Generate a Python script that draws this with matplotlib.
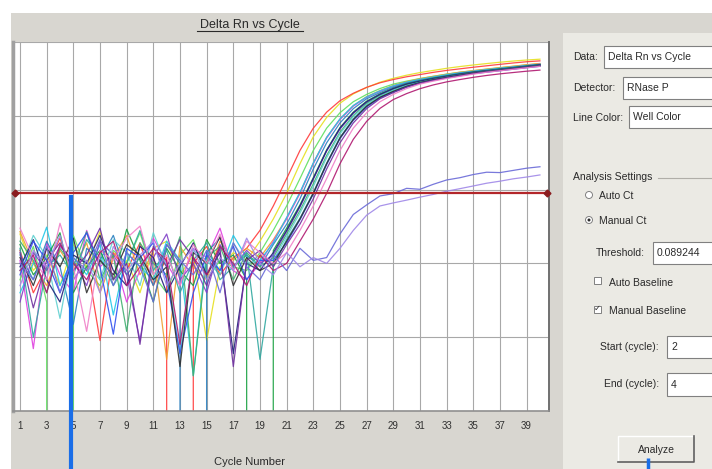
#!/usr/bin/env python3
"""Delta Rn vs Cycle amplification plot, drawn like the SDS analysis window."""
import matplotlib

matplotlib.use("Agg")
import matplotlib.pyplot as plt
from matplotlib.patches import Rectangle, Circle

plt.rcParams["font.family"] = ["Liberation Sans", "DejaVu Sans"]

cycles = list(range(1, 41))
cycle_ticks = list(range(1, 40, 2))
threshold = 0.089244
baseline_cycle_marker = 4.8

# Delta Rn per well (cycles 1..40)
well_red = [0.015, 0.004, 0.009, 0.022, 0.006, 0.011, 0.0009, 0.014, 0.008, 0.019,
            0.005, 0.012, -0.001, 0.010, 0.017, 0.007, 0.012, 0.016, 0.028, 0.060,
            0.141, 0.339, 0.68, 1.12, 1.60, 2.02, 2.43, 2.80, 3.10, 3.38,
            3.62, 3.88, 4.12, 4.33, 4.55, 4.76, 4.98, 5.20, 5.40, 5.55]
well_yellow = [0.025, 0.008, 0.013, 0.005, 0.018, 0.009, 0.027, 0.006, 0.011, 0.004,
               0.016, 0.020, 0.007, 0.013, 0.0009, 0.009, 0.014, 0.011, 0.020, 0.040,
               0.089, 0.224, 0.52, 0.95, 1.48, 1.98, 2.42, 2.85, 3.22, 3.55,
               3.85, 4.12, 4.40, 4.65, 4.88, 5.10, 5.32, 5.52, 5.70, 5.85]
well_lime = [0.006, 0.017, 0.003, -0.001, 0.024, 0.008, 0.005, 0.015, 0.010, 0.026,
             0.007, 0.004, 0.013, 0.021, 0.006, 0.011, 0.009, 0.008, 0.014, 0.028,
             0.060, 0.141, 0.339, 0.68, 1.10, 1.55, 1.95, 2.34, 2.69, 2.95,
             3.20, 3.43, 3.67, 3.89, 4.07, 4.27, 4.47, 4.68, 4.90, 5.07]
well_magenta = [0.011, 0.0007, 0.019, 0.007, 0.004, 0.028, 0.009, 0.013, 0.003, 0.008,
                0.022, 0.010, 0.005, 0.016, 0.012, 0.030, 0.008, 0.006, 0.010, 0.020,
                0.040, 0.089, 0.224, 0.50, 0.89, 1.35, 1.78, 2.14, 2.51, 2.82,
                3.09, 3.31, 3.55, 3.80, 3.98, 4.17, 4.37, 4.57, 4.79, 5.01]
well_cyan = [0.004, 0.010, 0.031, 0.005, 0.012, 0.007, 0.018, 0.002, 0.014, 0.009,
             0.006, 0.020, 0.011, 0.0003, 0.015, 0.008, 0.024, 0.012, 0.011, 0.019,
             0.042, 0.092, 0.230, 0.51, 0.91, 1.38, 1.80, 2.18, 2.55, 2.86,
             3.12, 3.36, 3.60, 3.82, 4.02, 4.22, 4.42, 4.60, 4.80, 4.98]
well_navy = [0.009, 0.021, 0.006, 0.003, 0.013, 0.010, 0.024, 0.008, 0.005, 0.017,
             0.012, 0.004, 0.009, 0.019, 0.007, 0.014, 0.0006, 0.010, 0.008, 0.014,
             0.028, 0.060, 0.141, 0.339, 0.68, 1.10, 1.55, 1.95, 2.34, 2.69,
             2.95, 3.20, 3.43, 3.67, 3.89, 4.07, 4.27, 4.47, 4.68, 4.90]
well_green = [0.018, 0.007, 0.012, 0.026, 0.004, 0.009, 0.015, 0.006, 0.029, 0.011,
              0.003, 0.016, 0.008, 0.005, 0.021, 0.010, 0.013, 0.006, -0.001, 0.015,
              0.030, 0.062, 0.145, 0.345, 0.69, 1.12, 1.58, 1.98, 2.36, 2.72,
              2.98, 3.24, 3.47, 3.70, 3.92, 4.10, 4.30, 4.50, 4.70, 4.92]
well_purple = [0.003, 0.014, 0.008, 0.017, 0.011, 0.005, 0.020, 0.013, 0.007, 0.0009,
               0.012, 0.025, 0.006, 0.010, 0.004, 0.018, 0.009, 0.015, 0.010, 0.013,
               0.027, 0.058, 0.138, 0.332, 0.66, 1.08, 1.52, 1.92, 2.30, 2.64,
               2.90, 3.15, 3.38, 3.62, 3.84, 4.02, 4.22, 4.42, 4.62, 4.84]
well_grey = [0.012, 0.005, 0.016, 0.009, 0.022, 0.004, 0.011, 0.007, 0.018, 0.013,
             0.006, 0.009, 0.0004, 0.014, 0.010, 0.023, 0.005, 0.012, 0.008, 0.010,
             0.020, 0.040, 0.089, 0.224, 0.50, 0.89, 1.35, 1.78, 2.14, 2.51,
             2.82, 3.09, 3.31, 3.55, 3.80, 3.98, 4.17, 4.37, 4.57, 4.79]
well_orange = [0.027, 0.010, 0.005, 0.015, 0.008, 0.019, 0.004, 0.012, 0.024, 0.007,
               0.014, 0.0005, 0.017, 0.009, 0.006, 0.020, 0.011, 0.016, 0.012, 0.021,
               0.041, 0.090, 0.228, 0.51, 0.90, 1.37, 1.82, 2.20, 2.58, 2.90,
               3.18, 3.42, 3.66, 3.90, 4.10, 4.30, 4.50, 4.70, 4.92, 5.12]
well_blue = [0.007, 0.020, 0.011, 0.004, 0.014, 0.026, 0.009, 0.0011, 0.016, 0.012,
             0.019, 0.006, 0.0006, 0.004, 0.013, 0.008, 0.017, 0.006, 0.011, 0.011,
             0.019, 0.039, 0.087, 0.218, 0.49, 0.87, 1.32, 1.74, 2.10, 2.46,
             2.76, 3.02, 3.25, 3.48, 3.72, 3.90, 4.08, 4.28, 4.48, 4.68]
well_teal = [0.016, 0.001, 0.009, 0.013, 0.007, 0.021, 0.012, 0.005, 0.010, 0.028,
             0.008, 0.015, 0.004, 0.011, 0.019, 0.006, 0.009, 0.014, 0.0005, 0.009,
             0.021, 0.041, 0.091, 0.228, 0.51, 0.90, 1.36, 1.79, 2.16, 2.53,
             2.84, 3.11, 3.34, 3.58, 3.82, 4.00, 4.20, 4.40, 4.60, 4.80]
well_pink = [0.030, 0.012, 0.006, 0.035, 0.009, 0.0012, 0.015, 0.011, 0.022, 0.032,
             0.007, 0.013, 0.005, 0.018, 0.010, 0.025, 0.008, 0.020, 0.014, 0.010,
             0.014, 0.028, 0.060, 0.141, 0.339, 0.68, 1.10, 1.55, 1.95, 2.34,
             2.69, 2.95, 3.20, 3.43, 3.67, 3.89, 4.07, 4.27, 4.47, 4.68]
well_wine = [0.008, 0.013, 0.004, 0.018, 0.010, 0.006, 0.014, 0.020, 0.005, 0.009,
             0.016, 0.011, 0.0008, 0.012, 0.007, 0.017, 0.010, 0.005, 0.013, 0.008,
             0.010, 0.020, 0.040, 0.089, 0.224, 0.48, 0.84, 1.26, 1.66, 2.00,
             2.33, 2.62, 2.88, 3.10, 3.32, 3.52, 3.70, 3.86, 4.02, 4.16]
well_steel = [0.013, 0.006, 0.020, 0.009, 0.0015, 0.016, 0.011, 0.024, 0.007, 0.012,
              0.005, 0.018, 0.010, -0.001, 0.014, 0.022, 0.009, 0.013, 0.009, 0.018,
              0.034, 0.075, 0.19, 0.43, 0.80, 1.25, 1.70, 2.06, 2.44, 2.77,
              3.03, 3.27, 3.50, 3.75, 3.95, 4.13, 4.33, 4.53, 4.75, 4.97]
well_jade = [0.020, 0.011, 0.004, 0.016, 0.009, 0.027, 0.006, 0.013, 0.0012, 0.019,
             0.010, 0.007, 0.023, 0.0003, 0.012, 0.017, 0.006, 0.014, 0.009, 0.012,
             0.025, 0.052, 0.12, 0.29, 0.60, 1.01, 1.47, 1.88, 2.26, 2.62,
             2.90, 3.15, 3.38, 3.62, 3.85, 4.03, 4.23, 4.43, 4.63, 4.85]
well_aqua = [0.008, 0.024, 0.012, 0.0018, 0.017, 0.010, 0.006, 0.021, 0.014, 0.005,
             0.026, 0.009, 0.0006, 0.015, 0.011, 0.007, 0.019, 0.010, 0.011, 0.011,
             0.023, 0.048, 0.11, 0.27, 0.57, 0.97, 1.42, 1.84, 2.22, 2.58,
             2.87, 3.12, 3.35, 3.58, 3.80, 3.99, 4.19, 4.39, 4.58, 4.78]
well_violet = [0.014, 0.0025, 0.011, 0.019, 0.008, 0.013, 0.030, 0.006, 0.010, 0.0008,
               0.017, 0.009, 0.021, 0.012, 0.005, 0.016, 0.0004, 0.011, 0.015, 0.009,
               0.018, 0.034, 0.075, 0.19, 0.43, 0.80, 1.25, 1.70, 2.06, 2.44,
               2.77, 3.03, 3.27, 3.50, 3.75, 3.95, 4.13, 4.33, 4.53, 4.75]
well_lilac_hi = [0.010, 0.006, 0.017, 0.004, 0.012, 0.008, 0.021, 0.005, 0.014, 0.009,
                 0.003, 0.018, 0.011, 0.007, 0.015, 0.004, 0.019, 0.009, 0.006, 0.013,
                 0.008, 0.016, 0.011, 0.012, 0.025, 0.046, 0.062, 0.082, 0.088, 0.104,
                 0.101, 0.118, 0.135, 0.145, 0.160, 0.172, 0.170, 0.182, 0.195, 0.204]
well_lilac_lo = [0.005, 0.015, 0.009, 0.024, 0.006, 0.011, 0.004, 0.017, 0.008, 0.013,
                 0.020, 0.005, 0.010, 0.016, 0.006, 0.012, 0.008, 0.022, 0.010, 0.007,
                 0.014, 0.009, 0.012, 0.010, 0.016, 0.028, 0.045, 0.060, 0.066, 0.072,
                 0.079, 0.086, 0.095, 0.103, 0.112, 0.122, 0.130, 0.140, 0.148, 0.158]

wells = [
    (well_yellow, "#e6e020"), (well_red, "#ff3a3a"), (well_lime, "#5fe05f"),
    (well_orange, "#f0a030"), (well_magenta, "#e040e0"), (well_cyan, "#20c8e8"),
    (well_steel, "#2a80c0"), (well_green, "#18a040"), (well_purple, "#8040c8"),
    (well_jade, "#40b070"), (well_aqua, "#60d0d0"), (well_navy, "#20207a"),
    (well_teal, "#30a8a0"), (well_blue, "#3050f0"), (well_grey, "#303030"),
    (well_violet, "#7030a0"), (well_pink, "#f080c8"), (well_wine, "#b01870"),
    (well_lilac_hi, "#6a6ad8"), (well_lilac_lo, "#a088e8"),
]

W, H = 712, 469
GRAY = "#d8d6d0"
PANEL = "#ebeae4"
TXT = "#2a2a2a"

fig = plt.figure(figsize=(W / 100, H / 100), dpi=100)
fig.patch.set_facecolor("white")

# pixel-space layer for the window chrome
bg = fig.add_axes([0, 0, 1, 1])
bg.set_xlim(0, W)
bg.set_ylim(H, 0)
bg.axis("off")
bg.add_patch(Rectangle((11, 13), W - 11, H - 13, facecolor=GRAY, edgecolor="none"))
bg.add_patch(Rectangle((563, 33), W - 563, H - 33, facecolor=PANEL, edgecolor="none"))

bg.text(250, 25, "Delta Rn vs Cycle", fontsize=9, color=TXT, ha="center", va="center")
bg.plot([197, 303], [31, 31], color=TXT, lw=0.8)
bg.text(250, 462, "Cycle Number", fontsize=8, color=TXT, ha="center", va="center")


def label(x, y, s, **kw):
    bg.text(x, y, s, fontsize=7.5, color=TXT, va="center", **kw)


def field(x, y0, y1, s):
    bg.add_patch(Rectangle((x, y0), W - x + 2, y1 - y0, facecolor="white",
                           edgecolor="#808080", lw=0.8))
    bg.text(x + 4, (y0 + y1) / 2, s, fontsize=7.5, color=TXT, va="center")


label(573, 57, "Data:")
field(604, 46, 68, "Delta Rn vs Cycle")
label(573, 88, "Detector:")
field(623, 77, 99, "RNase P")
label(573, 118, "Line Color:")
field(629, 106, 128, "Well Color")

label(573, 177, "Analysis Settings")
bg.plot([658, W], [178, 178], color="#b0aea8", lw=0.8)
bg.add_patch(Circle((589, 195), 3.5, facecolor="white", edgecolor="#808080", lw=0.7))
label(599, 196, "Auto Ct")
bg.add_patch(Circle((589, 220), 3.5, facecolor="white", edgecolor="#808080", lw=0.7))
bg.add_patch(Circle((589, 220), 1.5, facecolor=TXT, edgecolor="none"))
label(599, 221, "Manual Ct")

label(596, 253, "Threshold:")
field(653, 242, 264, f"{threshold:.6f}")
bg.add_patch(Rectangle((594, 277), 7, 7, facecolor="white", edgecolor="#808080", lw=0.7))
label(609, 283, "Auto Baseline")
bg.add_patch(Rectangle((594, 306), 7, 7, facecolor="white", edgecolor="#808080", lw=0.7))
bg.text(597.5, 309.5, "\u2713", fontsize=6, color=TXT, ha="center", va="center")
label(609, 311, "Manual Baseline")

label(600, 347, "Start (cycle):")
field(667, 336, 358, "2")
label(604, 384, "End (cycle):")
field(667, 373, 396, "4")

bg.add_patch(Rectangle((618, 436), 76, 26, facecolor=PANEL, edgecolor="none"))
bg.plot([618, 618, 694], [462, 436, 436], color="white", lw=1.0)
bg.plot([618, 694, 694], [462, 462, 436], color="#606060", lw=1.2)
bg.text(656, 450, "Analyze", fontsize=7.5, color=TXT, ha="center", va="center")
bg.plot([648, 648], [458, H], color="#1a6ee8", lw=2.5, solid_capstyle="butt")

# the plot itself
ax = fig.add_axes([13 / W, 1 - 411 / H, 536 / W, 369 / H])
ax.set_facecolor("white")
ax.set_yscale("log")
ax.set_ylim(1e-4, 1e1)
ax.set_xlim(0.475, 40.68)
ax.set_xticks(cycle_ticks)
ax.set_xticklabels([str(c) for c in cycle_ticks])
ax.set_yticks([1e-4, 1e-3, 1e-2, 1e-1, 1e0, 1e1])
ax.yaxis.set_minor_locator(matplotlib.ticker.NullLocator())
ax.tick_params(axis="x", length=0, pad=7, labelsize=7, labelcolor="#303030")
ax.tick_params(axis="y", length=0, labelleft=False)
ax.grid(True, which="major", color="#a8a8a8", lw=0.8)
ax.set_axisbelow(True)
ax.spines["top"].set_visible(False)
ax.spines["left"].set_color("#a0a0a0")
ax.spines["left"].set_linewidth(2.5)
ax.spines["bottom"].set_color("#909090")
ax.spines["bottom"].set_linewidth(1.2)
ax.spines["right"].set_color("#707070")
ax.spines["right"].set_linewidth(1.4)

for values, color in wells:
    ax.plot(cycles, values, color=color, lw=0.9, alpha=0.9)

ax.axhline(threshold, color="#b3262a", lw=1.6, zorder=6)
ax.plot([0.004, 0.996], [threshold, threshold], ls="none", marker="D", ms=3.5,
        color="#8a1c1f", transform=ax.get_yaxis_transform(), clip_on=False, zorder=7)

ax.axvline(baseline_cycle_marker, ymin=-0.16, ymax=0.58, color="#1a6ee8", lw=3,
           clip_on=False, zorder=8)

fig.savefig("out.png", dpi=100)
